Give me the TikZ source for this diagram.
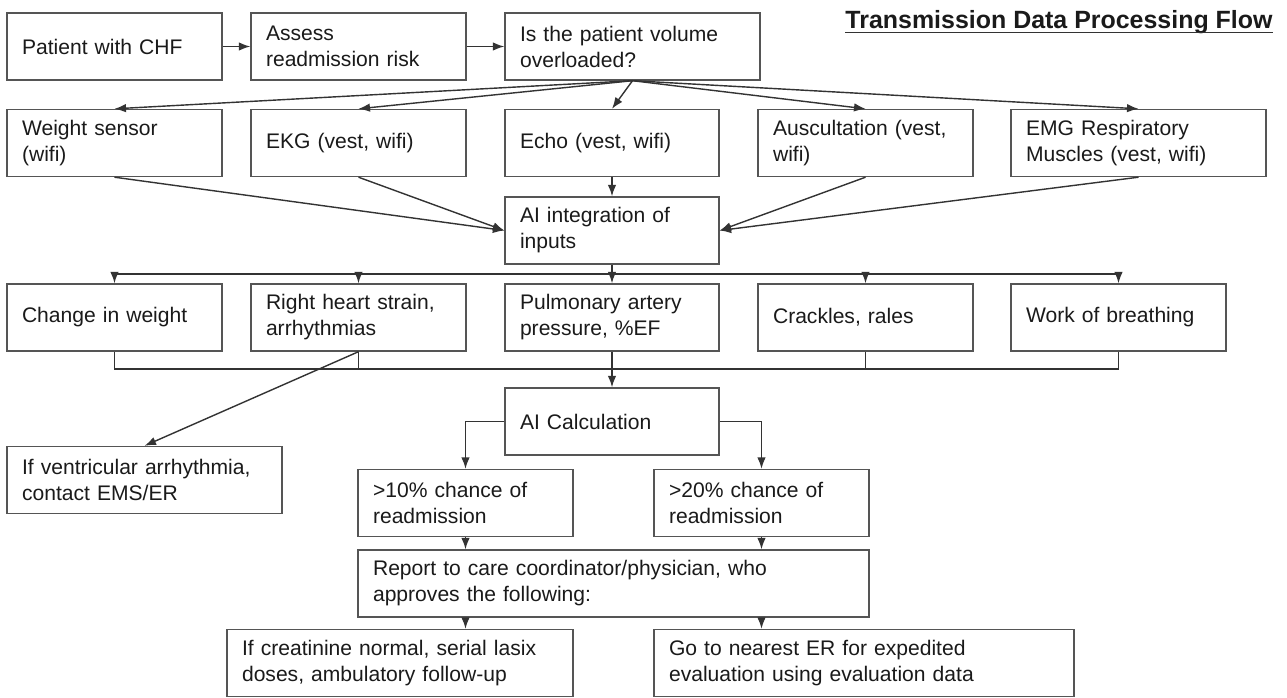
\documentclass[tikz,border=0pt]{standalone}
\usepackage{fontspec}
\setmainfont{Liberation Sans}
\usetikzlibrary{arrows.meta}

\definecolor{boxgray}{HTML}{555555}
\definecolor{linegray}{HTML}{333333}
\definecolor{textgray}{HTML}{1A1A1A}

\tikzset{
  flowbox/.style={draw=boxgray, line width=0.8pt, rectangle, align=left,
    inner xsep=0.3cm, inner ysep=0pt, minimum height=1.34cm,
    text=textgray, font=\fontsize{12}{14.8}\selectfont},
  flowline/.style={draw=linegray, line width=0.8pt},
  flowarrow/.style={flowline, -{Latex[length=2.3mm,width=1.7mm]}},
  flowtitle/.style={text=textgray, inner sep=0pt,
    font=\fontsize{14.2}{17}\selectfont\bfseries}
}

\begin{document}
\begin{tikzpicture}[x=0.02cm, y=-0.02cm]
\useasboundingbox (0,0) rectangle (1287,697);

%title
\node[flowtitle, anchor=base] (title) at (1059,28) {Transmission Data Processing Flow};
\draw[flowline, line width=1pt] ([yshift=-2.6pt]title.base west) -- ([yshift=-2.6pt]title.base east);

%first row
\node[flowbox, text width=3.7cm] (patient) at (114.5,46.5) {Patient with CHF};
\node[flowbox, text width=3.7cm] (assess) at (358.5,46.5) {Assess\\readmission risk};
\node[flowbox, text width=4.5cm] (overload) at (632.5,46.5) {Is the patient volume\\overloaded?};
\draw[flowarrow] (patient) -- (assess);
\draw[flowarrow] (assess) -- (overload);

%sensors
\node[flowbox, text width=3.7cm] (weight) at (114.5,143) {Weight sensor\\(wifi)};
\node[flowbox, text width=3.7cm] (ekg) at (358.5,143) {EKG (vest, wifi)};
\node[flowbox, text width=3.68cm] (echo) at (612,143) {Echo (vest, wifi)};
\node[flowbox, text width=3.7cm] (ausc) at (865.5,143) {Auscultation (vest,\\wifi)};
\node[flowbox, text width=4.5cm] (emg) at (1138.5,143) {EMG Respiratory\\Muscles (vest, wifi)};
\draw[flowarrow] (overload.south) -- (weight.north);
\draw[flowarrow] (overload.south) -- (ekg.north);
\draw[flowarrow] (overload.south) -- (echo.north);
\draw[flowarrow] (overload.south) -- (ausc.north);
\draw[flowarrow] (overload.south) -- (emg.north);

%integration
\node[flowbox, text width=3.68cm] (aiinput) at (612,230.5) {AI integration of\\inputs};
\draw[flowarrow] (weight.south) -- (aiinput.west);
\draw[flowarrow] (ekg.south) -- (aiinput.west);
\draw[flowarrow] (echo) -- (aiinput);
\draw[flowarrow] (ausc.south) -- (aiinput.east);
\draw[flowarrow] (emg.south) -- (aiinput.east);

%findings
\node[flowbox, text width=3.7cm] (weightchange) at (114.5,317.5) {Change in weight};
\node[flowbox, text width=3.7cm] (rhstrain) at (358.5,317.5) {Right heart strain,\\arrhythmias};
\node[flowbox, text width=3.68cm] (papress) at (612,317.5) {Pulmonary artery\\pressure, \%EF};
\node[flowbox, text width=3.7cm] (crackles) at (865.5,317.5) {Crackles, rales};
\node[flowbox, text width=3.7cm] (breathing) at (1118.5,317.5) {Work of breathing};

\coordinate (split) at (612,274);
\draw[flowline] (weightchange.north |- split) -- (breathing.north |- split);
\draw[flowarrow] (aiinput) -- (papress);
\draw[flowarrow] (weightchange.north |- split) -- (weightchange.north);
\draw[flowarrow] (rhstrain.north |- split) -- (rhstrain.north);
\draw[flowarrow] (crackles.north |- split) -- (crackles.north);
\draw[flowarrow] (breathing.north |- split) -- (breathing.north);

%merge into calculation
\coordinate (merge) at (612,369);
\draw[flowline] (weightchange.south) -- (weightchange.south |- merge) -- (breathing.south |- merge) -- (breathing.south);
\draw[flowline] (rhstrain.south) -- (rhstrain.south |- merge);
\draw[flowline] (crackles.south) -- (crackles.south |- merge);

\node[flowbox, text width=4.9cm] (ventric) at (144.5,480) {If ventricular arrhythmia,\\contact EMS/ER};
\draw[flowarrow] (rhstrain.south) -- (ventric.north);

\node[flowbox, text width=3.68cm] (aicalc) at (612,421.5) {AI Calculation};
\draw[flowarrow] (papress) -- (aicalc);

%risk levels
\node[flowbox, text width=3.7cm] (chance10) at (465.5,503) {>10\% chance of\\readmission};
\node[flowbox, text width=3.7cm] (chance20) at (761.5,503) {>20\% chance of\\readmission};
\draw[flowarrow] (aicalc.west) -| (chance10.north);
\draw[flowarrow] (aicalc.east) -| (chance20.north);

\node[flowbox, text width=9.62cm] (report) at (613.5,583.5) {Report to care coordinator/physician, who\\approves the following:};
\draw[flowarrow] (chance10.south) -- (chance10.south |- report.north);
\draw[flowarrow] (chance20.south) -- (chance20.south |- report.north);

%actions
\node[flowbox, text width=6.32cm] (creatinine) at (400,663) {If creatinine normal, serial lasix\\doses, ambulatory follow-up};
\node[flowbox, text width=7.8cm] (erdirect) at (864,663) {Go to nearest ER for expedited\\evaluation using evaluation data};
\draw[flowarrow] (report.south -| chance10.south) -- (creatinine.north -| chance10.south);
\draw[flowarrow] (report.south -| chance20.south) -- (erdirect.north -| chance20.south);
\end{tikzpicture}
\end{document}
